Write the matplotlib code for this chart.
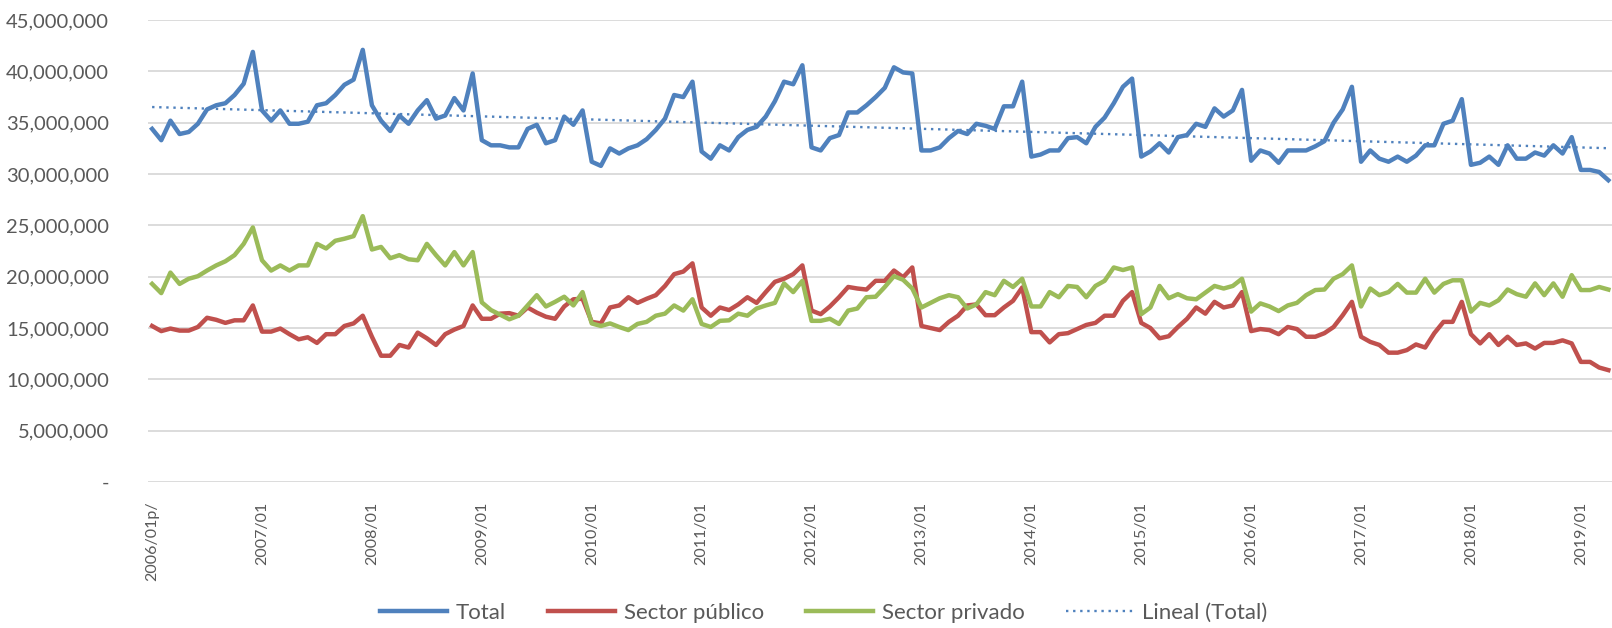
import matplotlib
matplotlib.use("Agg")
import matplotlib.pyplot as plt
from matplotlib.ticker import FuncFormatter
import numpy as np

plt.rcParams['font.family'] = ['Lato', 'DejaVu Sans']

# monthly series 2006/01 - 2019/04
months = [f"{y}/{m:02d}" for y in range(2006, 2020) for m in range(1, 13)][:160]

total = [34.4, 33.3, 35.2, 33.9, 34.1, 34.9, 36.3, 36.7, 36.9, 37.7, 38.8, 41.9,
         36.2, 35.2, 36.2, 34.9, 34.9, 35.1, 36.7, 36.9, 37.7, 38.7, 39.2, 42.1,
         36.7, 35.2, 34.2, 35.7, 34.9, 36.2, 37.2, 35.4, 35.7, 37.4, 36.2, 39.8,
         33.3, 32.8, 32.8, 32.6, 32.6, 34.4, 34.8, 33.0, 33.3, 35.6, 34.8, 36.2,
         31.2, 30.8, 32.5, 32.0, 32.5, 32.8, 33.4, 34.3, 35.4, 37.7, 37.5, 39.0,
         32.2, 31.5, 32.8, 32.3, 33.6, 34.3, 34.6, 35.6, 37.1, 39.0, 38.75, 40.6,
         32.6, 32.3, 33.5, 33.8, 36.0, 36.0, 36.7, 37.5, 38.4, 40.4, 39.9, 39.8,
         32.3, 32.3, 32.6, 33.5, 34.2, 33.9, 34.9, 34.7, 34.4, 36.6, 36.6, 39.0,
         31.7, 31.9, 32.3, 32.3, 33.5, 33.6, 33.0, 34.6, 35.5, 36.9, 38.5, 39.3,
         31.7, 32.2, 33.0, 32.1, 33.6, 33.8, 34.9, 34.6, 36.4, 35.6, 36.2, 38.2,
         31.3, 32.3, 32.0, 31.1, 32.3, 32.3, 32.3, 32.7, 33.2, 35.0, 36.3, 38.5,
         31.2, 32.3, 31.5, 31.2, 31.7, 31.2, 31.8, 32.8, 32.8, 34.9, 35.2, 37.3,
         30.9, 31.1, 31.7, 30.9, 32.8, 31.5, 31.5, 32.1, 31.8, 32.8, 32.0, 33.6,
         30.4, 30.4, 30.2, 29.4]

publico = [15.2, 14.7, 14.95, 14.75, 14.75, 15.1, 16.0, 15.8, 15.5, 15.75, 15.75, 17.2,
           14.65, 14.65, 14.95, 14.4, 13.9, 14.1, 13.55, 14.4, 14.4, 15.2, 15.45, 16.2,
           14.15, 12.3, 12.3, 13.35, 13.1, 14.55, 14.0, 13.35, 14.4, 14.85, 15.2, 17.2,
           15.9, 15.9, 16.4, 16.45, 16.2, 17.0, 16.5, 16.1, 15.9, 17.1, 17.8, 17.85,
           15.6, 15.45, 17.0, 17.2, 18.0, 17.45, 17.85, 18.2, 19.1, 20.25, 20.5, 21.3,
           17.0, 16.2, 17.0, 16.75, 17.3, 18.0, 17.45, 18.5, 19.5, 19.8, 20.25, 21.1,
           16.7, 16.35, 17.1, 18.0, 19.0, 18.85, 18.75, 19.6, 19.6, 20.6, 19.95, 20.9,
           15.2, 15.0, 14.8, 15.6, 16.2, 17.2, 17.3, 16.25, 16.25, 17.0, 17.65, 18.95,
           14.6, 14.6, 13.6, 14.4, 14.5, 14.9, 15.3, 15.5, 16.2, 16.2, 17.65, 18.5,
           15.5, 15.0, 14.0, 14.2, 15.1, 15.9, 17.0, 16.4, 17.55, 17.0, 17.2, 18.5,
           14.7, 14.9, 14.8, 14.4, 15.1, 14.9, 14.15, 14.15, 14.5, 15.1, 16.25, 17.55,
           14.15, 13.65, 13.35, 12.6, 12.6, 12.85, 13.4, 13.1, 14.5, 15.6, 15.6, 17.55,
           14.4, 13.5, 14.4, 13.35, 14.15, 13.35, 13.5, 13.0, 13.55, 13.55, 13.8, 13.5,
           11.7, 11.7, 11.15, 10.9]

privado = [19.3, 18.4, 20.4, 19.3, 19.8, 20.05, 20.6, 21.1, 21.5, 22.1, 23.2, 24.8,
           21.6, 20.6, 21.1, 20.6, 21.1, 21.1, 23.2, 22.75, 23.5, 23.7, 23.95, 25.9,
           22.65, 22.9, 21.8, 22.1, 21.7, 21.6, 23.2, 22.1, 21.1, 22.4, 21.1, 22.4,
           17.5, 16.75, 16.3, 15.85, 16.2, 17.2, 18.2, 17.1, 17.55, 18.05, 17.2, 18.5,
           15.45, 15.2, 15.45, 15.1, 14.8, 15.4, 15.6, 16.2, 16.4, 17.2, 16.7, 17.8,
           15.4, 15.1, 15.7, 15.75, 16.4, 16.2, 16.9, 17.2, 17.45, 19.35, 18.5, 19.6,
           15.7, 15.7, 15.9, 15.4, 16.7, 16.9, 18.0, 18.05, 19.0, 20.05, 19.7, 18.85,
           17.0, 17.45, 17.9, 18.2, 18.0, 16.9, 17.3, 18.5, 18.2, 19.6, 19.0, 19.8,
           17.1, 17.1, 18.5, 18.0, 19.1, 19.0, 18.0, 19.1, 19.6, 20.9, 20.65, 20.9,
           16.35, 17.0, 19.1, 17.9, 18.3, 17.9, 17.8, 18.45, 19.1, 18.85, 19.1, 19.8,
           16.6, 17.4, 17.1, 16.65, 17.2, 17.45, 18.2, 18.7, 18.75, 19.8, 20.25, 21.1,
           17.1, 18.85, 18.2, 18.5, 19.3, 18.45, 18.45, 19.8, 18.45, 19.3, 19.65, 19.65,
           16.6, 17.45, 17.2, 17.7, 18.75, 18.3, 18.05, 19.35, 18.2, 19.35, 18.05, 20.15,
           18.7, 18.7, 19.0, 18.75]

tick_labels = ['2006/01p/', '2007/01', '2008/01', '2009/01', '2010/01', '2011/01', '2012/01',
               '2013/01', '2014/01', '2015/01', '2016/01', '2017/01', '2018/01', '2019/01']

x = np.arange(len(months))
total_v = np.array(total) * 1e6
publico_v = np.array(publico) * 1e6
privado_v = np.array(privado) * 1e6

# linear trend of total (Excel "Lineal")
coef = np.polyfit(x, total_v, 1)
trend = np.polyval(coef, x)

fig = plt.figure(figsize=(16.12, 6.28), dpi=100)
ax = fig.add_axes([0.0918, 0.2325, 0.9082, 0.7355])

ax.plot(x, total_v, color='#4F81BD', lw=3.2, label='Total', solid_joinstyle='round')
ax.plot(x, publico_v, color='#C0504D', lw=3.2, label='Sector público', solid_joinstyle='round')
ax.plot(x, privado_v, color='#9BBB59', lw=3.2, label='Sector privado', solid_joinstyle='round')
ax.plot(x, trend, color='#4F81BD', lw=1.7, linestyle=(0, (1, 2)), label='Lineal (Total)')

ax.set_ylim(0, 45e6)
ax.set_yticks(np.arange(0, 45e6 + 1, 5e6))
ax.yaxis.set_major_formatter(FuncFormatter(lambda v, p: '-' if v == 0 else f'{v:,.0f}'))
ax.set_xlim(-0.45, 159.4)
ax.set_xticks(x[::12])
ax.set_xticklabels(tick_labels, rotation=90, va='top', ha='center')

ax.grid(axis='y', color='#D9D9D9', lw=1.3)
ax.set_axisbelow(True)
for s in ax.spines.values():
    s.set_visible(False)
ax.tick_params(axis='y', length=0, pad=28, labelsize=14.5, labelcolor='#595959')
ax.tick_params(axis='x', length=0, pad=14, labelsize=11.5, labelcolor='#595959')

fig.legend(loc='center', bbox_to_anchor=(0.511, 0.024), ncol=4, frameon=False,
           fontsize=16, handlelength=3.0, handletextpad=0.4, columnspacing=1.9,
           labelcolor='#595959')

fig.savefig('out.png', dpi=100)
